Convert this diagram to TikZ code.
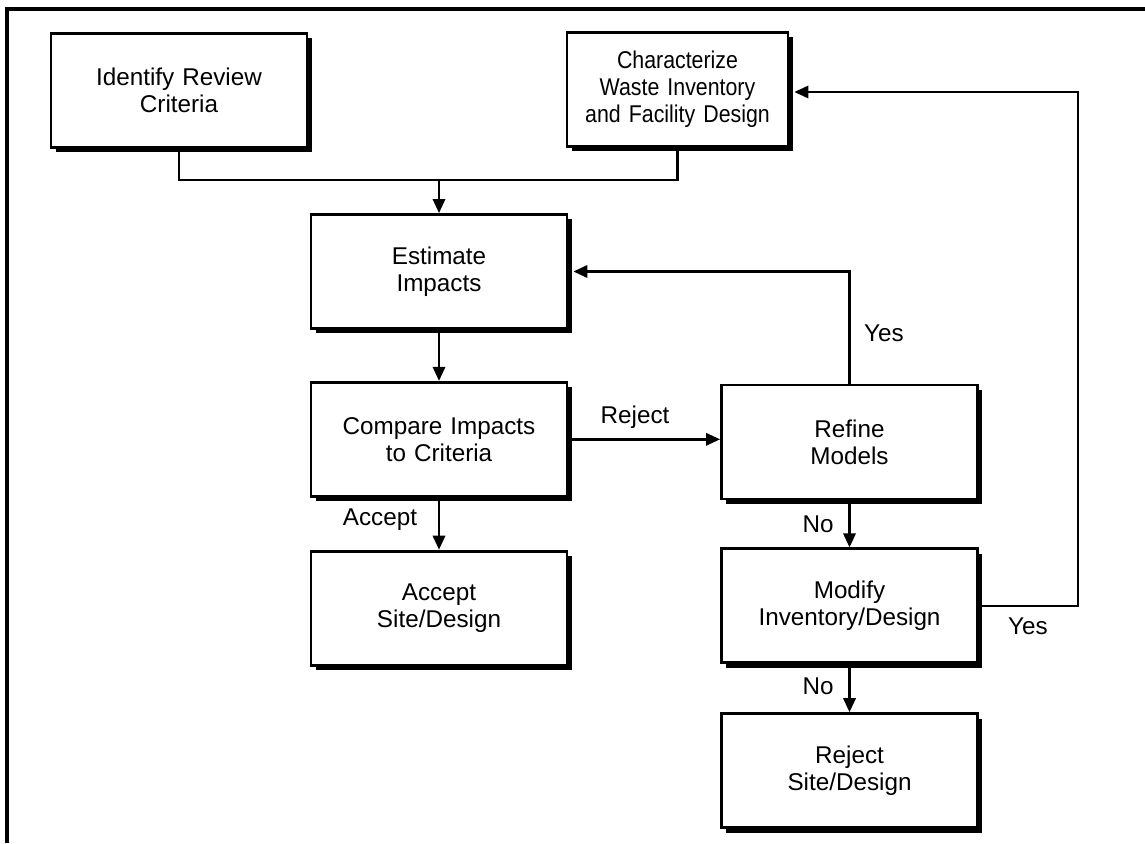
\documentclass[tikz,border=0pt]{standalone}
\usepackage{fontspec}
\setmainfont{Liberation Sans}
\newfontfamily\narrowfont[FakeStretch=0.88]{Liberation Sans}
\usepackage{tikz}
\usetikzlibrary{arrows.meta, positioning, shadows}
\tikzset{
  blk/.style={
    rectangle, minimum width=5.12cm, minimum height=2.28cm,
    text centered, text width=4.6cm, draw, line width=1.6pt,
    fill=white, font=\fontsize{13.8}{15.3}\selectfont,
    drop shadow={shadow xshift=2.8pt, shadow yshift=-2.8pt,
                 fill=black, opacity=1}
  },
  arr/.style={-{Triangle[length=8pt, width=7pt]}, line width=1.4pt},
  lnk/.style={line width=1.4pt},
  lbl/.style={font=\fontsize{13.8}{15.3}\selectfont, inner sep=0pt}
}
\begin{document}
\begin{tikzpicture}
  \useasboundingbox (0,0) rectangle (22.9,-16.86);
  % frame
  \draw[line width=2.2pt] (0.14,-16.86) -- (0.14,-0.18) -- (22.9,-0.18);

  \node[blk] (idc) at (3.58,-1.81) {Identify Review\\Criteria};
  \node[blk, minimum width=4.42cm, text width=4.0cm] (chr) at (13.55,-1.79)
        {\narrowfont Characterize\\Waste Inventory\\and Facility Design};
  \node[blk] (est) at (8.78,-5.43) {Estimate\\Impacts};
  \node[blk, below=1.02cm of est] (cmp) {Compare Impacts\\to Criteria};
  \node[blk, below=1.04cm of cmp] (acc) {Accept\\Site/Design};
  \node[blk] (ref) at (16.99,-8.84) {Refine\\Models};
  \node[blk, below=0.94cm of ref] (mod) {Modify\\Inventory/Design};
  \node[blk, below=0.96cm of mod] (rej) {Reject\\Site/Design};

  % labels
  \node[lbl] (lrej) at (12.70,-8.34) {Reject};
  \node[lbl] (lacc) at (7.60,-10.40) {Accept};
  \node[lbl] (lys1) at (17.68,-6.66) {Yes};
  \node[lbl] (lno1) at (16.36,-10.48) {No};
  \node[lbl] (lno2) at (16.36,-13.72) {No};
  \node[lbl] (lys2) at (20.56,-12.52) {Yes};

  \coordinate (mrg) at (8.78,-3.60);
  \coordinate (rtn) at (21.56,-1.84);

  \draw[lnk] (idc.south) |- (mrg);
  \draw[lnk] (chr.south) |- (mrg);
  \draw[arr] (mrg) -- (est.north);
  \draw[arr] (est) -- (cmp);
  \draw[arr] (cmp) -- (acc);
  \draw[arr] (cmp.east) -- (cmp.east -| ref.west);
  \draw[arr] (ref.north) |- ([xshift=2.8pt]est.east);
  \draw[arr] (ref) -- (mod);
  \draw[arr] (mod) -- (rej);
  \draw[arr] (mod.east) -| (rtn) -- ([xshift=2.8pt]chr.east |- rtn);
\end{tikzpicture}
\end{document}
